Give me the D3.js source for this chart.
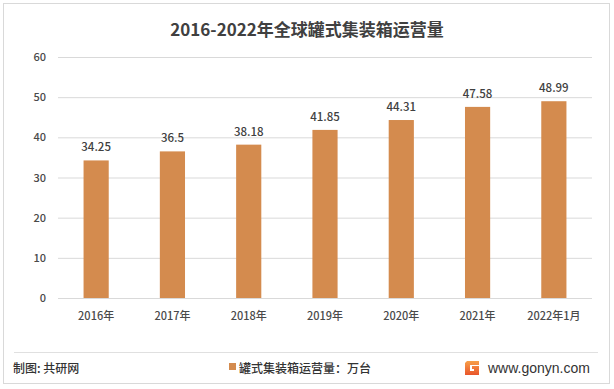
<!DOCTYPE html>
<html><head><meta charset="utf-8">
<script src="https://cdn.jsdelivr.net/npm/d3@7/dist/d3.min.js"></script>
<style>body{margin:0;background:#fff}svg{display:block}</style>
</head><body>
<svg id="c" width="614" height="389"></svg>
<script>
const categories = ["2016年","2017年","2018年","2019年","2020年","2021年","2022年1月"];
const values = [34.25, 36.5, 38.18, 41.85, 44.31, 47.58, 48.99];
const valueLabels = ["34.25","36.5","38.18","41.85","44.31","47.58","48.99"];
const yTicks = [0,10,20,30,40,50,60];
const title = "2016-2022年全球罐式集装箱运营量";
const legendLabel = "罐式集装箱运营量：万台";
const source = "制图: 共研网";
const site = "www.gonyn.com";

const svg = d3.select("#c");
const font = "'Noto Sans CJK SC','Microsoft YaHei',sans-serif";
const color = "#D48B4E";
svg.append("rect").attr("x",3.5).attr("y",3.5).attr("width",606).attr("height",380)
  .attr("fill","#fff").attr("stroke","#d9d9d9");

const m = {l:58, r:592, t:57, b:298};
const x = d3.scaleBand().domain(categories).range([m.l, m.r]).paddingInner(0.67).paddingOuter(0.335);
const y = d3.scaleLinear().domain([0,60]).range([m.b, m.t]);

const yAxis = d3.axisLeft(y).tickValues(yTicks).tickSize(-(m.r-m.l)).tickPadding(12);
const gy = svg.append("g").attr("transform",`translate(${m.l},0)`).call(yAxis);
gy.select(".domain").remove();
gy.selectAll("line").attr("stroke","#d9d9d9");
gy.selectAll("text").attr("fill","#4a4a4a").style("font-family",font).style("font-size","11px").style("font-weight","500");

svg.append("g").selectAll("rect").data(values).join("rect")
  .attr("x",(d,i)=>x(categories[i])).attr("width",x.bandwidth())
  .attr("y",d=>y(d)).attr("height",d=>y(0)-y(d)).attr("fill",color);

svg.append("g").selectAll("text").data(values).join("text")
  .attr("x",(d,i)=>x(categories[i])+x.bandwidth()/2).attr("y",d=>y(d)-9)
  .attr("text-anchor","middle").attr("fill","#404040")
  .style("font-family",font).style("font-size","11.5px").style("font-weight","500")
  .text((d,i)=>valueLabels[i]);

const xAxis = d3.axisBottom(x).tickSize(0).tickPadding(14);
const gx = svg.append("g").attr("transform",`translate(0,${m.b})`).call(xAxis);
gx.select(".domain").remove();
gx.selectAll("text").attr("fill","#4a4a4a").style("font-family",font).style("font-size","11px").style("font-weight","500");

svg.append("text").attr("x",307).attr("y",36).attr("text-anchor","middle")
  .attr("fill","#404040").style("font-family",font).style("font-size","17px").style("font-weight","bold")
  .text(title);

svg.append("line").attr("x1",14).attr("x2",598).attr("y1",352.5).attr("y2",352.5).attr("stroke","#e0e0e0");

svg.append("text").attr("x",13).attr("y",373).attr("fill","#333")
  .style("font-family",font).style("font-size","12px").style("font-weight","500").text(source);

svg.append("rect").attr("x",229).attr("y",363).attr("width",7).attr("height",7).attr("fill",color);
svg.append("text").attr("x",239).attr("y",373).attr("fill","#333")
  .style("font-family",font).style("font-size","12px").style("font-weight","500").text(legendLabel);

const defs = svg.append("defs");
const gr = defs.append("linearGradient").attr("id","lg").attr("x1",0).attr("y1",0).attr("x2",0).attr("y2",1);
gr.append("stop").attr("offset","0%").attr("stop-color","#F7A04A");
gr.append("stop").attr("offset","100%").attr("stop-color","#E9552B");
const lg = svg.append("g").attr("transform","translate(465,361)");
lg.append("path").attr("d","M2,0H14V4H5V10H9V8H7V5H14V14H0V2Z").attr("fill","url(#lg)");
svg.append("text").attr("x",488).attr("y",373).attr("fill","#333")
  .style("font-family","'Liberation Sans',Arial,sans-serif").style("font-size","14px").text(site);
</script>
</body></html>
